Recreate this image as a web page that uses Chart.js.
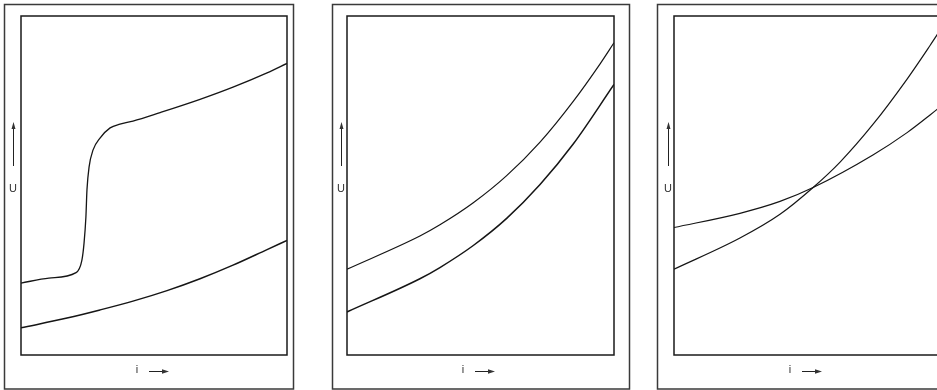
<!DOCTYPE html>
<html>
<head>
<meta charset="utf-8">
<script src="https://cdn.jsdelivr.net/npm/chart.js@4/dist/chart.umd.min.js"></script>
<style>
  html, body { margin: 0; padding: 0; background: #fff; overflow: hidden; }
  #wrap { position: relative; width: 937px; height: 390px; overflow: hidden; }
  .panel { position: absolute; top: 0; }
</style>
</head>
<body>
<div id="wrap">
  <div class="panel" style="left:0px"><canvas id="c1" width="300" height="390"></canvas></div>
  <div class="panel" style="left:320px"><canvas id="c2" width="317" height="390"></canvas></div>
  <div class="panel" style="left:645px"><canvas id="c3" width="310" height="390"></canvas></div>
</div>
<script>
// Axis captions
const uLabel = 'U';
const iLabel = 'i';

// Diagram 1: characteristic with a step, and a smooth one below it
const d1UpperI = [0, 10.5, 20.7, 22.9, 23.7, 24.4, 24.8, 25.6, 27.1, 29.7, 33.5, 37.2, 42.1, 52.3, 67.3, 79.7, 92.5, 100];
const d1UpperU = [21.2, 22.7, 24.3, 28.0, 33.0, 40.7, 48.7, 55.5, 60.5, 64.0, 67.0, 68.1, 69.0, 71.5, 75.4, 79.0, 83.2, 86.0];
const d1LowerI = [0, 17.3, 29.7, 42.1, 54.9, 67.3, 79.7, 92.5, 100];
const d1LowerU = [8.0, 10.9, 13.3, 15.9, 19.0, 22.5, 26.5, 31.1, 33.8];

// Diagram 2: two parallel rising characteristics
const d2UpperI = [0, 27.3, 34.8, 47.3, 59.8, 72.3, 84.8, 94.8, 100];
const d2UpperU = [25.3, 35.1, 38.4, 44.9, 52.9, 62.8, 74.9, 85.9, 92.1];
const d2LowerI = [0, 27.3, 34.8, 47.3, 59.8, 72.3, 84.8, 100];
const d2LowerU = [12.7, 22.5, 25.8, 32.3, 40.3, 50.3, 62.3, 79.8];

// Diagram 3: two characteristics that cross
const d3SteepI = [0, 24.7, 39.7, 52.1, 62.2, 74.5, 87.3, 95.9, 100];
const d3SteepU = [25.3, 34.5, 41.5, 49.4, 56.9, 68.0, 81.4, 91.3, 96.2];
const d3FlatI = [0, 24.7, 39.7, 52.1, 74.5, 87.3, 95.9, 100];
const d3FlatU = [37.6, 41.8, 45.3, 49.4, 59.0, 65.6, 70.8, 73.4];

function pts(xs, ys) { return xs.map((x, k) => ({ x: x, y: ys[k] })); }

function curve(xs, ys, width) {
  return {
    data: pts(xs, ys),
    borderColor: '#151515',
    borderWidth: width,
    pointRadius: 0,
    fill: false,
    cubicInterpolationMode: 'monotone'
  };
}

// Frames, arrows and captions around each diagram
const framePlugin = {
  id: 'frames',
  afterDraw(chart, args, opts) {
    const ctx = chart.ctx;
    const a = chart.chartArea;
    ctx.save();
    // outer box
    ctx.strokeStyle = '#3a3a3a';
    ctx.lineWidth = 1.5;
    ctx.strokeRect(opts.outerL + 0.5, 4.5, opts.outerR - opts.outerL, 384.5);
    // plot box
    ctx.strokeStyle = '#1a1a1a';
    ctx.lineWidth = 1.5;
    ctx.strokeRect(a.left, a.top, a.right - a.left, a.bottom - a.top);

    ctx.fillStyle = '#333';
    ctx.strokeStyle = '#222';
    ctx.lineWidth = 1;
    ctx.font = '11px "Liberation Sans", Arial, sans-serif';
    ctx.textBaseline = 'middle';
    ctx.textAlign = 'center';

    // vertical caption with upward arrow
    const ux = a.left + opts.uDx;
    ctx.fillText(uLabel, ux, 189);
    ctx.beginPath();
    ctx.moveTo(ux + 0.5, 166);
    ctx.lineTo(ux + 0.5, 128);
    ctx.stroke();
    ctx.beginPath();
    ctx.moveTo(ux + 0.5, 122);
    ctx.lineTo(ux - 1.5, 129);
    ctx.lineTo(ux + 2.5, 129);
    ctx.closePath();
    ctx.fill();

    // horizontal caption with rightward arrow
    const ix = a.left + 116;
    ctx.fillText(iLabel, ix, 370);
    ctx.beginPath();
    ctx.moveTo(ix + 12, 371.5);
    ctx.lineTo(ix + 26, 371.5);
    ctx.stroke();
    ctx.beginPath();
    ctx.moveTo(ix + 32, 371.5);
    ctx.lineTo(ix + 25, 369.3);
    ctx.lineTo(ix + 25, 373.7);
    ctx.closePath();
    ctx.fill();
    ctx.restore();
  }
};

function makeChart(id, datasets, pad, frameOpts) {
  return new Chart(document.getElementById(id), {
    type: 'line',
    data: { datasets: datasets },
    options: {
      responsive: false,
      animation: false,
      devicePixelRatio: 1,
      layout: { padding: pad },
      plugins: { legend: { display: false }, tooltip: { enabled: false }, frames: frameOpts },
      scales: {
        x: { type: 'linear', min: 0, max: 100, display: false },
        y: { type: 'linear', min: 0, max: 100, display: false }
      }
    },
    plugins: [framePlugin]
  });
}

makeChart('c1',
  [curve(d1UpperI, d1UpperU, 1.3), curve(d1LowerI, d1LowerU, 1.5)],
  { left: 21, right: 13, top: 16, bottom: 35 },
  { outerL: 4, outerR: 293, uDx: -8 });

makeChart('c2',
  [curve(d2UpperI, d2UpperU, 1.2), curve(d2LowerI, d2LowerU, 1.5)],
  { left: 27, right: 23, top: 16, bottom: 35 },
  { outerL: 12, outerR: 309, uDx: -6 });

makeChart('c3',
  [curve(d3SteepI, d3SteepU, 1.2), curve(d3FlatI, d3FlatU, 1.2)],
  { left: 29, right: 14, top: 16, bottom: 35 },
  { outerL: 12, outerR: 302, uDx: -6 });
</script>
</body>
</html>
